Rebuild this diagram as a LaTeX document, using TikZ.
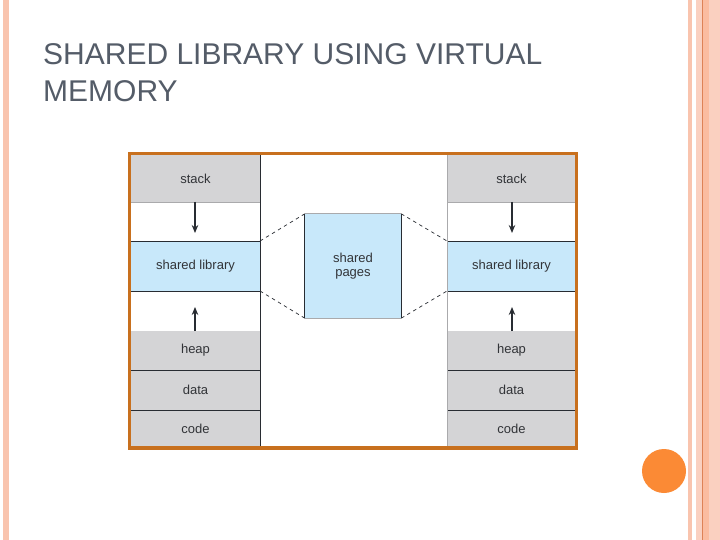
\documentclass[tikz,border=0pt]{standalone}
\usepackage{fontspec}
\setmainfont{Liberation Sans}
\usetikzlibrary{arrows.meta}
\definecolor{titlegray}{RGB}{84,92,104}
\definecolor{cellgray}{RGB}{212,212,214}
\definecolor{cellblue}{RGB}{200,232,250}
\definecolor{frameorange}{RGB}{200,112,30}
\definecolor{dotorange}{RGB}{251,138,53}
\definecolor{stripe}{RGB}{249,196,174}
\definecolor{stripelt}{RGB}{250,208,192}
\definecolor{stripemid}{RGB}{251,188,160}
\definecolor{stripedark}{RGB}{222,130,86}
\definecolor{txt}{RGB}{50,52,56}
\definecolor{sepdark}{RGB}{40,44,50}
\definecolor{seplight}{RGB}{170,170,172}
\tikzset{
  cell/.style={rectangle, inner sep=0pt, outer sep=0pt, minimum width=129pt, text=txt, font=\fontsize{13}{15}\selectfont},
  grayc/.style={cell, fill=cellgray},
  bluec/.style={cell, fill=cellblue},
  whitec/.style={cell, fill=white},
  sep/.style={draw=sepdark, line width=0.8pt},
  seplt/.style={draw=seplight, line width=0.8pt},
  growarrow/.style={draw=sepdark, line width=1.3pt, -{Stealth[length=8pt,width=6.5pt]}},
  share/.style={draw=sepdark, line width=0.7pt, dash pattern=on 3.5pt off 3.5pt},
}
\begin{document}
\begin{tikzpicture}[x=1pt,y=-1pt]
\useasboundingbox (0,0) rectangle (720,540);
\fill[white] (0,0) rectangle (720,540);
% decorations
\fill[stripe] (3,0) rectangle (9,540);
\fill[stripe] (688,0) rectangle (692,540);
\fill[stripelt] (696,0) rectangle (702,540);
\fill[stripemid] (702,0) rectangle (709,540);
\fill[stripelt] (709,0) rectangle (720,540);
\draw[stripedark, line width=0.9pt] (702.4,0) -- (702.4,540);
\fill[dotorange] (664,471) circle (22);
% title
\node[anchor=base west, inner sep=0pt, text=titlegray, font=\fontsize{30}{37}\selectfont, align=left] (title) at (43,102) {SHARED LIBRARY USING VIRTUAL\\MEMORY};
% frame interior
\fill[white] (129.5,153.5) rectangle (576.5,448);
% left column
\node[grayc, minimum height=47pt] (Lstack) at (195.5,178.5) {stack};
\node[whitec, minimum height=39pt] (Lgap1) at (195.5,221.5) {};
\node[bluec, minimum height=50pt] (Llib) at (195.5,266) {shared library};
\node[whitec, minimum height=40pt] (Lgap2) at (195.5,311) {};
\node[grayc, minimum height=39pt] (Lheap) at (195.5,350.5) {heap};
\node[grayc, minimum height=40pt] (Ldata) at (195.5,390) {data};
\node[grayc, minimum height=37pt] (Lcode) at (195.5,428.5) {code};
% right column
\node[grayc, minimum height=47pt] (Rstack) at (511.5,178.5) {stack};
\node[whitec, minimum height=39pt] (Rgap1) at (511.5,221.5) {};
\node[bluec, minimum height=50pt] (Rlib) at (511.5,266) {shared library};
\node[whitec, minimum height=40pt] (Rgap2) at (511.5,311) {};
\node[grayc, minimum height=39pt] (Rheap) at (511.5,350.5) {heap};
\node[grayc, minimum height=40pt] (Rdata) at (511.5,390) {data};
\node[grayc, minimum height=37pt] (Rcode) at (511.5,428.5) {code};
% separators
\foreach \c in {L,R}{
  \draw[seplt] (\c stack.south west) -- (\c stack.south east);
  \draw[sep] (\c lib.north west) -- (\c lib.north east);
  \draw[sep] (\c lib.south west) -- (\c lib.south east);
  \draw[sep] (\c heap.south west) -- (\c heap.south east);
  \draw[sep] (\c data.south west) -- (\c data.south east);
}
\draw[sep] (Lstack.north east) -- (Lcode.south east);
\draw[seplt] (Rstack.north west) -- (Rcode.south west);
% shared pages
\node[rectangle, fill=cellblue, inner sep=0pt, minimum width=96pt, minimum height=104pt, text=txt, font=\fontsize{13}{15}\selectfont, align=center] (sp) at (353,266) {shared\\[-1pt]pages};
\draw[sep] (sp.north west) -- (sp.south west);
\draw[sep] (sp.north east) -- (sp.south east);
\draw[seplt] (sp.north west) -- (sp.north east);
\draw[seplt] (sp.south west) -- (sp.south east);
% arrows
\coordinate (La) at (195,233);
\coordinate (Lb) at (195,307);
\coordinate (Ra) at (512,233);
\coordinate (Rb) at (512,307);
\draw[growarrow] (Lstack.south) ++(-0.5,0) -- (La);
\draw[growarrow] (Lheap.north) ++(-0.5,0) -- (Lb);
\draw[growarrow] (Rstack.south) ++(0.5,0) -- (Ra);
\draw[growarrow] (Rheap.north) ++(0.5,0) -- (Rb);
% dashed mapping
\draw[share] (Llib.north east) -- (sp.north west);
\draw[share] (Llib.south east) -- (sp.south west);
\draw[share] (sp.north east) -- (Rlib.north west);
\draw[share] (sp.south east) -- (Rlib.south west);
% frame
\draw[frameorange, line width=3.5pt] (129.5,153.5) rectangle (576.5,448);
\end{tikzpicture}
\end{document}
